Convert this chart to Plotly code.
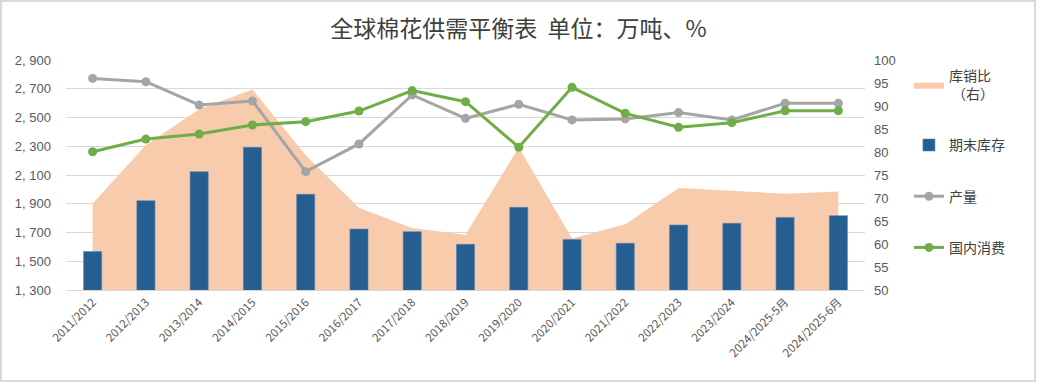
import plotly.graph_objects as go

categories = ["2011/2012", "2012/2013", "2013/2014", "2014/2015", "2015/2016",
              "2016/2017", "2017/2018", "2018/2019", "2019/2020", "2020/2021",
              "2021/2022", "2022/2023", "2023/2024", "2024/2025-5月", "2024/2025-6月"]
ending_stock = [1567, 1921, 2123, 2293, 1966, 1724, 1706, 1618, 1875, 1652,
                1625, 1752, 1764, 1805, 1817]
production = [2772, 2749, 2587, 2615, 2123, 2316, 2657, 2494, 2592, 2483,
              2490, 2534, 2483, 2599, 2599]
consumption = [2262, 2350, 2385, 2448, 2471, 2545, 2687, 2610, 2293, 2710,
               2529, 2432, 2464, 2547, 2547]
stock_use_ratio = [68.8, 81.5, 89.3, 93.6, 79.3, 67.9, 63.5, 62.0, 81.0, 61.2,
                   64.3, 72.2, 71.6, 70.9, 71.4]
left_ticks = [1300, 1500, 1700, 1900, 2100, 2300, 2500, 2700, 2900]
left_ticktext = ["1, 300", "1, 500", "1, 700", "1, 900", "2, 100", "2, 300",
                 "2, 500", "2, 700", "2, 900"]
right_ticks = [50, 55, 60, 65, 70, 75, 80, 85, 90, 95, 100]

FONT = "Noto Sans CJK SC"
TICK = "#595959"

fig = go.Figure()
fig.add_trace(go.Scatter(
    x=categories, y=stock_use_ratio, name="库销比<br> （右）", yaxis="y",
    mode="lines", line=dict(width=0, color="#F8CBAD"), fill="tozeroy",
    fillcolor="#F8CBAD", legendgroup="a"))
fig.add_trace(go.Bar(
    x=categories, y=ending_stock, name="期末库存", yaxis="y2",
    marker=dict(color="#255E91", line=dict(color="#5b87b5", width=0.6)),
    width=0.34, legendgroup="b"))
fig.add_trace(go.Scatter(
    x=categories, y=production, name="产量", yaxis="y2", mode="lines+markers",
    line=dict(color="#A5A5A5", width=3), marker=dict(size=9, color="#A5A5A5"),
    legendgroup="c"))
fig.add_trace(go.Scatter(
    x=categories, y=consumption, name="国内消费", yaxis="y2", mode="lines+markers",
    line=dict(color="#70AD47", width=3), marker=dict(size=9, color="#70AD47"),
    legendgroup="d"))

fig.update_layout(
    width=1037, height=383,
    margin=dict(l=66, r=172, t=60, b=93),
    paper_bgcolor="white", plot_bgcolor="white",
    font=dict(family=FONT, color=TICK),
    title=dict(text="全球棉花供需平衡表  单位：万吨、%", x=0.5, xanchor="center",
               y=1 - 29 / 383, yanchor="middle",
               font=dict(family=FONT, size=23, color="#404040")),
    showlegend=True,
    legend=dict(x=1.055, xanchor="left", y=1.0, yanchor="top",
                font=dict(family=FONT, size=14, color="#404040"),
                tracegroupgap=30, itemwidth=30, bgcolor="rgba(0,0,0,0)",
                maxheight=370),
    bargap=0.5,
    xaxis=dict(type="category", range=[-0.5, 14.5], tickangle=-45,
               tickfont=dict(size=11.5, color=TICK), showgrid=False,
               showline=True, linecolor="#D9D9D9", linewidth=1, ticks=""),
    yaxis=dict(side="right", range=[50, 100], tickvals=right_ticks,
               showgrid=False, zeroline=False,
               tickfont=dict(family="Liberation Sans", size=13, color=TICK),
               ticks="", ticklabelstandoff=8),
    yaxis2=dict(side="left", overlaying="y", range=[1300, 2900],
                tickvals=left_ticks, ticktext=left_ticktext,
                showgrid=True, gridcolor="#D9D9D9", gridwidth=1, zeroline=False,
                tickfont=dict(family="Liberation Sans", size=13, color=TICK),
                ticks="", ticklabelstandoff=14),
    shapes=[dict(type="rect", xref="paper", yref="paper",
                 x0=-65 / 799, x1=1 + 170 / 799, y0=-91 / 230, y1=1 + 59 / 230,
                 line=dict(color="#D9D9D9", width=2), fillcolor="rgba(0,0,0,0)",
                 layer="below")],
)

fig.write_html("out.html", config={"displayModeBar": False},
               post_script="document.body.style.margin='0';document.body.style.overflow='hidden';")
